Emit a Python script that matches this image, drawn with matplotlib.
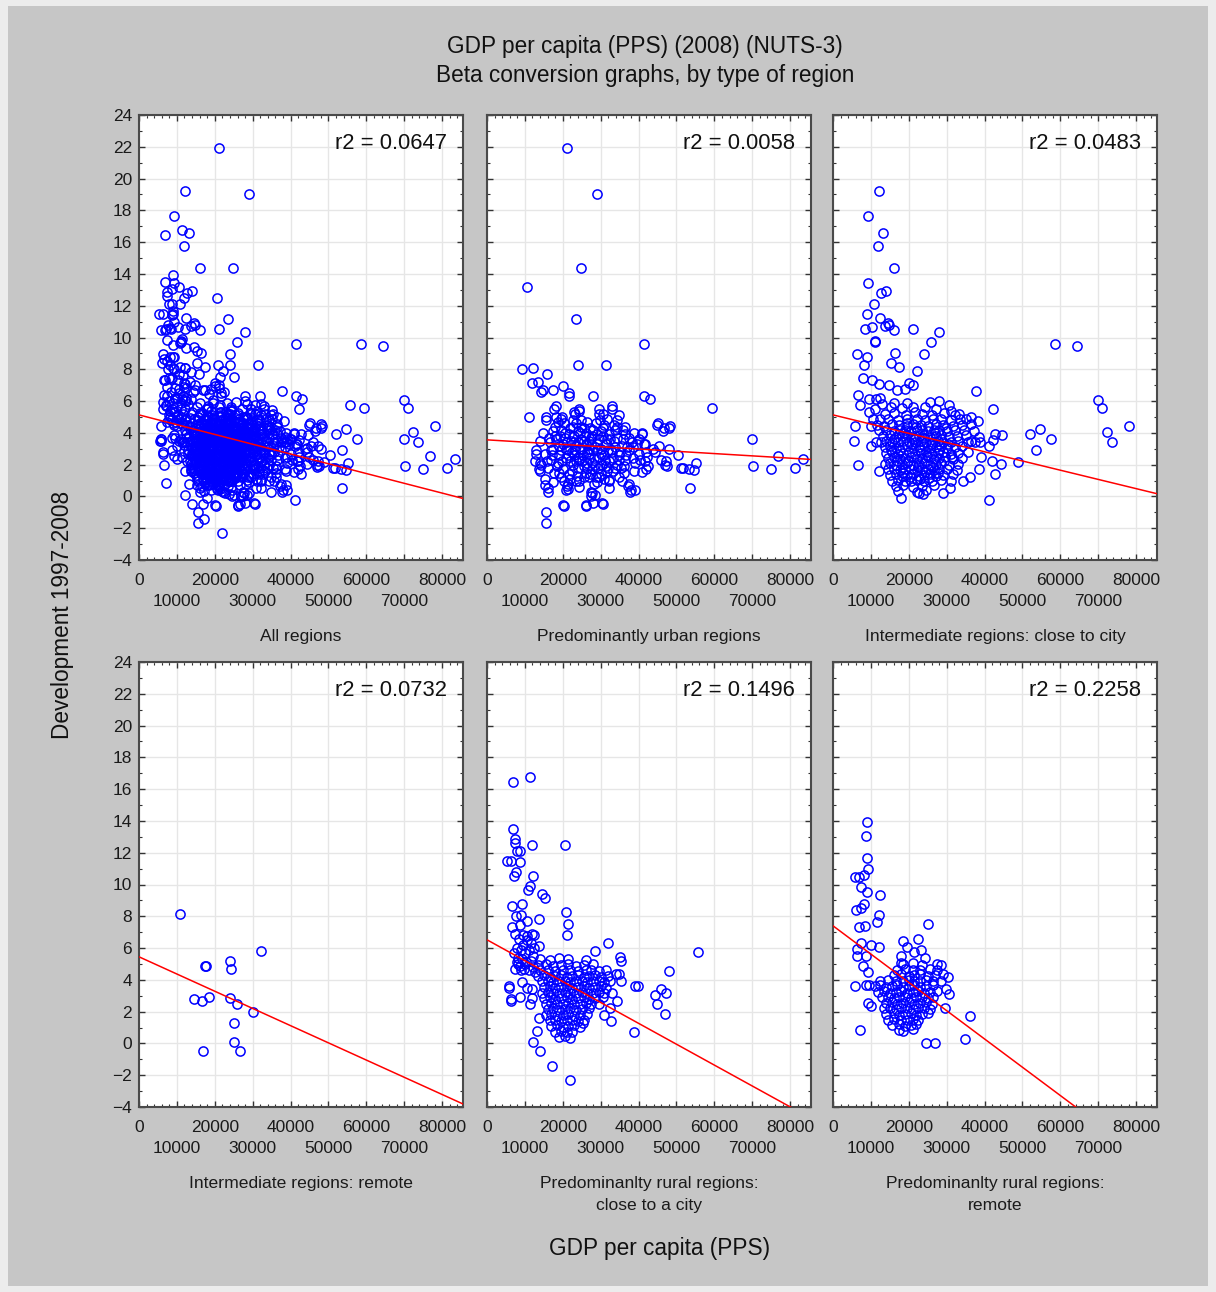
import matplotlib.pyplot as plt
import numpy as np
from matplotlib.patches import Rectangle
from matplotlib.ticker import MultipleLocator

# GDP per capita (thousand PPS, 2008) vs development 1997-2008, one list per region type
urban = [
    (21.1, 21.9), (29.0, 19.0), (24.9, 14.4), (10.5, 13.2), (23.6, 11.15), (41.5, 9.6), (24.0, 8.3),
    (31.3, 8.3), (9.3, 8.0), (12.1, 8.05), (15.9, 7.7), (12.0, 7.15), (13.5, 7.2), (14.2, 6.6),
    (14.8, 6.7), (17.3, 6.7), (20.1, 6.95), (21.7, 6.5), (21.7, 6.3), (28.1, 6.35), (41.3, 6.3),
    (43.1, 6.15), (59.4, 5.55), (11.1, 5.0), (15.7, 5.0), (18.2, 5.7), (33.0, 5.7), (29.5, 5.5),
    (24.3, 5.5), (23.1, 5.2), (30.7, 5.2), (18.3, 5.0), (19.6, 4.9), (45.2, 4.65), (48.2, 4.45),
    (46.7, 4.3), (41.0, 4.0), (69.9, 3.6), (76.9, 2.55), (83.4, 2.35), (70.3, 1.9), (74.9, 1.7),
    (81.2, 1.8), (53.7, 0.5), (50.5, 2.6), (55.2, 2.1), (51.7, 1.8), (53.3, 1.7), (54.6, 1.65),
    (48.0, 3.0), (45.4, 3.2), (45.9, 2.3), (47.2, 2.2), (47.6, 1.9), (42.6, 1.9), (41.9, 1.75),
    (40.9, 1.55), (39.5, 3.3), (41.8, 3.3), (38.6, 3.1), (12.9, 2.7), (14.0, 2.1), (13.8, 1.7),
    (15.3, 0.7), (16.2, 0.25), (15.5, -0.95), (15.5, -1.65), (20.3, -0.6), (26.2, -0.6), (27.9, -0.4),
    (28.4, 0.1), (27.5, 0.0), (30.6, -0.5), (37.1, 0.65), (38.0, 0.4), (21.4, 0.45), (21.2, 0.65),
    (32.2, 1.05),
    (17.8, 5.5), (19.8, 5.0), (23.0, 5.3), (24.3, 5.4), (29.6, 5.2), (31.7, 4.9), (32.9, 5.5),
    (34.8, 5.1), (15.7, 4.8), (18.7, 4.7), (20.4, 4.6), (22.6, 4.8), (24.8, 4.4), (26.5, 4.7),
    (28.7, 4.6), (30.9, 4.5), (34.3, 4.8), (36.5, 4.4), (44.8, 4.5), (14.8, 4.0), (17.4, 4.1),
    (19.6, 4.2), (21.7, 3.9), (23.9, 4.1), (26.1, 4.0), (27.8, 3.8), (30.0, 4.1), (32.2, 3.9),
    (33.9, 4.2), (36.3, 3.9), (38.7, 4.0), (40.9, 3.9), (46.5, 4.1), (48.0, 4.3), (13.9, 3.5),
    (16.5, 3.4), (18.3, 3.6), (20.0, 3.3), (22.2, 3.5), (23.5, 3.2), (25.7, 3.5), (27.4, 3.3),
    (29.6, 3.6), (31.3, 3.3), (33.5, 3.5), (35.7, 3.2), (38.3, 3.4), (41.3, 3.3), (43.9, 3.0),
    (13.0, 2.9), (15.2, 2.7), (17.4, 3.0), (19.1, 2.6), (21.3, 2.9), (23.0, 2.6), (25.2, 3.0),
    (27.0, 2.7), (29.1, 2.9), (30.9, 2.6), (33.0, 2.8), (34.8, 2.6), (37.4, 2.9), (40.0, 2.7),
    (42.2, 2.5), (44.3, 2.8), (12.6, 2.2), (14.3, 2.0), (17.0, 2.3), (18.7, 2.1), (20.9, 2.4),
    (22.6, 2.0), (24.3, 2.3), (26.5, 2.1), (28.3, 2.4), (30.4, 2.0), (32.2, 2.2), (34.3, 2.0),
    (36.5, 2.3), (39.1, 2.1), (41.7, 2.2), (47.0, 2.0), (51.3, 1.8), (13.9, 1.6), (16.1, 1.8),
    (17.8, 1.5), (20.0, 1.7), (21.7, 1.4), (23.9, 1.8), (26.1, 1.5), (27.8, 1.7), (30.0, 1.4),
    (31.7, 1.6), (33.9, 1.8), (36.1, 1.5), (38.7, 1.6), (15.2, 1.1), (17.4, 0.9), (19.6, 1.2),
    (21.3, 0.8), (23.5, 1.0), (25.7, 1.2), (29.1, 0.9), (32.2, 1.0), (34.8, 1.2), (37.4, 0.8),
    (16.1, 0.5), (20.9, 0.4), (24.3, 0.6), (27.4, 0.3), (32.2, 0.5), (37.8, 0.3), (39.1, 0.4),
    (20.0, -0.56), (26.1, -0.56), (30.4, -0.4), (27.8, 0.24), (24.5, 3.0), (26.8, 2.4), (28.5, 3.1),
    (22.5, 2.8), (25.0, 2.2), (27.5, 3.7), (23.0, 3.8), (29.5, 2.5), (31.8, 2.9), (20.8, 3.0),
    (26.0, 3.3), (24.0, 2.5),
    (18.0, 4.4), (19.2, 3.8), (20.6, 4.0), (21.0, 3.4), (22.0, 2.2), (22.8, 4.4), (23.3, 2.9),
    (24.0, 3.4), (24.6, 4.0), (25.3, 2.6), (25.9, 3.8), (26.4, 1.8), (27.0, 3.0), (27.6, 2.1),
    (28.1, 4.2), (28.9, 3.3), (29.3, 1.8), (30.2, 3.0), (30.6, 3.8), (31.1, 2.3), (31.9, 1.8),
    (32.5, 3.6), (33.2, 2.4), (33.8, 3.1), (34.4, 4.4), (35.1, 2.8), (35.9, 3.6), (36.8, 2.6),
    (37.6, 3.7), (19.5, 2.9), (18.5, 1.9), (20.4, 1.0), (22.3, 1.6), (23.8, 1.3), (26.8, 1.2),
    (28.8, 1.2), (17.2, 2.6), (16.3, 3.7), (15.8, 2.2), (24.8, 4.8), (27.3, 4.3), (29.8, 4.8),
    (38.5, 2.4), (36.2, 1.9), (40.3, 2.3),
    (18.9, 3.2), (19.9, 2.2), (20.5, 3.7), (21.5, 2.6), (21.9, 4.3), (22.9, 3.4), (23.4, 2.2),
    (23.6, 4.6), (24.9, 3.6), (25.5, 1.9), (25.6, 4.3), (26.3, 2.8), (26.9, 3.5), (27.3, 1.4),
    (27.9, 2.9), (28.6, 2.0), (29.0, 3.9), (29.5, 1.2), (30.1, 2.7), (30.7, 4.3), (31.3, 1.9),
    (31.6, 3.6), (32.7, 2.9), (33.2, 1.6), (33.6, 4.5), (34.3, 3.7), (34.9, 2.3), (35.4, 1.8),
    (36.0, 4.2), (37.0, 3.1), (19.0, 1.5), (17.9, 3.8), (16.8, 2.9), (24.4, 1.0), (28.2, 0.8),
    (22.0, 1.1), (30.8, 1.1), (35.7, 1.0), (40.0, 3.6), (42.0, 2.8),
]

close_to_city = [
    (12.1, 19.2), (9.3, 17.65), (13.3, 16.55), (12.0, 15.75), (16.1, 14.4), (9.2, 13.4), (14.0, 12.95),
    (12.7, 12.8), (10.8, 12.1), (8.9, 11.45), (12.3, 11.2), (8.5, 10.55), (10.3, 10.65), (13.6, 10.7),
    (14.5, 10.9), (14.9, 10.8), (16.0, 10.5), (21.1, 10.55), (28.0, 10.35), (11.0, 9.8), (11.2, 9.7),
    (25.8, 9.7), (16.4, 9.05), (6.3, 8.95), (8.9, 8.8), (24.1, 8.95), (8.2, 8.25), (15.3, 8.4),
    (17.4, 8.15), (22.1, 7.9), (8.0, 7.45), (10.4, 7.35), (12.1, 7.05), (14.7, 7.0), (16.8, 6.7),
    (20.0, 7.15), (21.2, 7.0), (19.1, 6.75), (37.7, 6.65), (6.7, 6.4), (7.0, 5.75), (9.5, 6.15),
    (11.4, 6.15), (12.3, 6.2), (16.0, 5.9), (19.5, 5.9), (25.6, 5.95), (28.1, 6.0), (30.7, 5.75),
    (42.3, 5.5), (58.6, 9.6), (64.3, 9.45), (70.0, 6.05), (70.9, 5.55), (78.1, 4.45), (72.4, 4.05),
    (73.7, 3.4), (51.9, 3.95), (54.6, 4.25), (57.5, 3.6), (53.5, 2.9), (48.8, 2.15), (44.6, 3.85),
    (42.8, 3.9), (42.1, 3.55), (5.8, 4.45), (5.6, 3.5), (6.6, 2.0), (10.1, 4.45), (10.1, 3.2),
    (11.4, 3.45), (12.1, 1.6), (41.2, -0.2), (18.0, -0.1), (22.8, 0.2), (23.7, 0.15), (29.1, 0.2),
    (30.9, 0.5), (36.2, 1.2), (34.2, 1.0), (38.4, 1.7), (42.8, 1.4), (44.3, 2.05), (39.0, 2.45),
    (41.9, 2.2), (41.2, 3.15), (38.9, 3.4), (36.4, 3.5), (38.2, 4.75), (36.4, 5.0), (33.3, 5.2),
    (31.1, 5.35), (9.6, 5.3), (11.2, 5.5), (12.9, 5.8), (10.5, 4.9),
    (15.4, 5.6), (18.1, 5.55), (21.2, 5.65), (24.3, 5.6), (27.2, 5.5),
    (13.6, 5.2), (16.1, 5.25), (19.2, 5.15), (21.6, 5.3), (23.4, 5.2), (26.1, 5.1), (29.2, 5.25),
    (32.1, 5.15), (12.4, 4.85), (14.6, 4.9), (17.1, 4.8), (19.4, 4.85), (22.1, 4.9), (24.2, 4.8),
    (26.4, 4.85), (28.6, 4.9), (31.1, 4.8), (33.4, 4.85), (35.2, 4.9), (11.6, 4.5), (13.4, 4.45),
    (15.6, 4.55), (17.4, 4.5), (19.6, 4.45), (21.1, 4.55), (23.1, 4.5), (25.1, 4.45), (27.1, 4.55),
    (29.1, 4.5), (31.6, 4.45), (34.1, 4.5), (36.4, 4.55), (12.1, 4.15), (14.1, 4.2), (16.1, 4.1),
    (17.6, 4.2), (19.1, 4.15), (20.6, 4.1), (22.1, 4.2), (23.6, 4.15), (25.1, 4.1), (26.6, 4.2),
    (28.1, 4.15), (30.1, 4.1), (32.1, 4.2), (34.6, 4.15), (37.1, 4.1), (13.1, 3.8), (15.1, 3.85),
    (16.6, 3.75), (18.1, 3.8), (19.6, 3.85), (21.1, 3.75), (22.6, 3.8), (24.1, 3.85), (25.6, 3.75),
    (27.1, 3.8), (28.6, 3.85), (30.6, 3.75), (32.6, 3.8), (35.1, 3.85), (38.6, 3.75), (12.6, 3.45),
    (14.1, 3.5), (15.6, 3.4), (17.1, 3.45), (18.6, 3.5), (20.1, 3.4), (21.6, 3.45), (23.1, 3.5),
    (24.6, 3.4), (26.1, 3.45), (27.6, 3.5), (29.1, 3.4), (31.1, 3.45), (33.1, 3.5), (35.6, 3.4),
    (37.6, 3.45), (13.6, 3.1), (15.1, 3.15), (16.6, 3.05), (18.1, 3.1), (19.6, 3.15), (21.1, 3.05),
    (22.6, 3.1), (24.1, 3.15), (25.6, 3.05), (27.1, 3.1), (28.6, 3.15), (30.1, 3.05), (32.1, 3.1),
    (34.1, 3.15), (14.1, 2.75), (15.6, 2.8), (17.1, 2.7), (18.6, 2.75), (20.1, 2.8), (21.6, 2.7),
    (23.1, 2.75), (24.6, 2.8), (26.1, 2.7), (27.6, 2.75), (29.1, 2.8), (31.1, 2.7), (33.1, 2.75),
    (35.6, 2.8), (14.6, 2.4), (16.1, 2.45), (17.6, 2.35), (19.1, 2.4), (20.6, 2.45), (22.1, 2.35),
    (23.6, 2.4), (25.1, 2.45), (26.6, 2.35), (28.1, 2.4), (29.6, 2.45), (31.6, 2.35), (34.1, 2.4),
    (13.6, 2.05), (15.1, 2.1), (16.6, 2.0), (18.1, 2.05), (19.6, 2.1), (21.1, 2.0), (22.6, 2.05),
    (24.1, 2.1), (25.6, 2.0), (27.1, 2.05), (28.6, 2.1), (30.6, 2.0), (33.1, 2.05), (14.6, 1.7),
    (16.1, 1.75), (17.6, 1.65), (19.1, 1.7), (20.6, 1.75), (22.1, 1.65), (23.6, 1.7), (25.1, 1.75),
    (26.6, 1.65), (28.1, 1.7), (30.1, 1.75), (32.6, 1.65), (15.1, 1.35), (16.6, 1.4), (18.1, 1.3),
    (19.6, 1.35), (21.1, 1.4), (22.6, 1.3), (24.1, 1.35), (25.6, 1.4), (27.1, 1.3), (29.1, 1.35),
    (31.6, 1.4), (15.6, 1.0), (17.1, 1.05), (19.1, 0.95), (20.6, 1.0), (22.1, 1.05), (24.1, 0.95),
    (26.1, 1.0), (28.6, 1.05), (31.1, 0.95), (16.6, 0.65), (18.6, 0.7), (21.1, 0.6), (23.6, 0.65),
    (26.6, 0.7), (17.1, 0.35), (22.1, 0.3), (24.6, 0.4),
    (16.0, 3.6), (17.8, 2.9), (18.8, 4.0), (19.9, 2.2), (20.9, 3.3), (21.8, 4.35), (22.4, 1.9),
    (22.9, 2.9), (23.9, 3.65), (24.4, 1.55), (24.9, 2.6), (25.9, 3.3), (26.4, 1.85), (26.9, 4.0),
    (27.9, 2.9), (28.4, 3.6), (29.4, 2.2), (29.9, 4.3), (30.4, 3.3), (31.4, 2.5), (16.9, 2.2),
    (18.4, 1.5), (20.4, 1.2), (23.0, 1.1), (25.4, 1.15), (27.6, 1.5), (19.4, 4.6), (21.4, 3.6),
    (15.4, 2.95), (17.4, 3.95),
]

intermediate_remote = [
    (10.9, 8.15), (32.2, 5.8), (24.0, 5.2), (24.3, 4.67), (17.3, 4.85), (17.7, 4.85), (14.5, 2.8),
    (16.6, 2.65), (18.6, 2.9), (24.0, 2.85), (25.8, 2.45), (30.0, 1.95), (25.0, 1.3), (25.2, 0.1),
    (26.7, -0.45), (17.0, -0.5),
]

rural_close = [
    (6.8, 16.45), (11.4, 16.75), (6.8, 13.5), (7.4, 12.85), (7.4, 12.6), (8.6, 12.1), (8.0, 12.1),
    (11.8, 12.5), (20.7, 12.5), (5.2, 11.45), (6.3, 11.45), (8.7, 11.4), (7.7, 10.8), (7.0, 10.55),
    (12.2, 10.55), (11.4, 9.9), (10.8, 9.65), (14.6, 9.4), (15.3, 9.15), (6.7, 8.65), (9.2, 8.8),
    (20.8, 8.25), (7.7, 8.0), (8.9, 8.1), (13.8, 7.8), (10.5, 7.7), (21.4, 7.5), (6.6, 7.35),
    (8.6, 7.45), (21.2, 6.85), (11.8, 6.9), (12.3, 6.85), (9.5, 6.8), (10.5, 6.75), (31.9, 6.35),
    (13.6, 6.15), (55.8, 5.75), (28.5, 5.8), (48.1, 4.55), (35.2, 5.45), (35.4, 5.2), (34.9, 4.4),
    (35.4, 3.9), (34.1, 4.4), (39.0, 3.6), (39.8, 3.6), (44.4, 3.05), (45.9, 3.4), (47.2, 3.15),
    (44.8, 2.5), (47.1, 1.85), (38.7, 0.7), (32.8, 1.4), (34.3, 2.65), (25.4, 1.3), (12.2, 0.1),
    (14.0, -0.5), (17.1, -1.45), (22.0, -2.3), (13.1, 0.8), (9.2, 3.85), (5.9, 3.6), (5.7, 3.5),
    (6.4, 2.8), (6.3, 2.65), (8.6, 2.9), (10.5, 3.5), (11.8, 3.4), (11.8, 2.85), (11.4, 2.45),
    (13.8, 1.6), (33.0, 3.2), (32.5, 2.2), (31.0, 1.8),
    (7.5, 6.9), (8.5, 6.6), (9.6, 6.2), (10.6, 6.5), (11.6, 6.3), (12.4, 6.0), (8.0, 6.0),
    (9.0, 5.9), (10.1, 5.7), (11.1, 5.9), (12.1, 5.5), (7.2, 5.7), (8.3, 5.4), (9.3, 5.3),
    (10.4, 5.1), (11.5, 5.2), (7.8, 5.1), (8.8, 4.9), (9.8, 4.7), (11.0, 4.6), (12.2, 4.8),
    (7.5, 4.7), (10.0, 5.0), (12.6, 4.5), (8.2, 5.0), (9.0, 4.6),
    (14.0, 5.3), (16.5, 5.25), (19.0, 5.35), (21.5, 5.3), (26.0, 5.25),
    (13.5, 4.95), (15.5, 5.0), (17.5, 4.9), (19.5, 4.95), (21.5, 5.0), (23.5, 4.9), (25.5, 4.95),
    (28.0, 5.0), (14.0, 4.6), (16.0, 4.65), (18.0, 4.55), (20.0, 4.6), (22.0, 4.65), (24.0, 4.55),
    (26.0, 4.6), (27.5, 4.65), (29.5, 4.55), (31.5, 4.6), (13.5, 4.25), (15.0, 4.3), (16.5, 4.2),
    (18.0, 4.25), (19.5, 4.3), (21.0, 4.2), (22.5, 4.25), (24.0, 4.3), (25.5, 4.2), (27.0, 4.25),
    (28.5, 4.3), (30.0, 4.2), (32.0, 4.25), (14.5, 3.9), (16.0, 3.95), (17.5, 3.85), (19.0, 3.9),
    (20.5, 3.95), (22.0, 3.85), (23.5, 3.9), (25.0, 3.95), (26.5, 3.85), (28.0, 3.9), (29.5, 3.95),
    (31.0, 3.85), (32.5, 3.9), (15.0, 3.55), (16.5, 3.6), (18.0, 3.5), (19.5, 3.55), (21.0, 3.6),
    (22.5, 3.5), (24.0, 3.55), (25.5, 3.6), (27.0, 3.5), (28.5, 3.55), (30.0, 3.6), (31.5, 3.5),
    (14.5, 3.2), (16.0, 3.25), (17.5, 3.15), (19.0, 3.2), (20.5, 3.25), (22.0, 3.15), (23.5, 3.2),
    (25.0, 3.25), (26.5, 3.15), (28.0, 3.2), (29.5, 3.25), (31.0, 3.15), (15.0, 2.85), (16.5, 2.9),
    (18.0, 2.8), (19.5, 2.85), (21.0, 2.9), (22.5, 2.8), (24.0, 2.85), (25.5, 2.9), (27.0, 2.8),
    (28.5, 2.85), (30.5, 2.9), (15.5, 2.5), (17.0, 2.55), (18.5, 2.45), (20.0, 2.5), (21.5, 2.55),
    (23.0, 2.45), (24.5, 2.5), (26.0, 2.55), (27.5, 2.45), (29.5, 2.5), (16.0, 2.15), (17.5, 2.2),
    (19.0, 2.1), (20.5, 2.15), (22.0, 2.2), (23.5, 2.1), (25.0, 2.15), (27.0, 2.2), (15.5, 1.8),
    (17.0, 1.85), (18.5, 1.75), (20.0, 1.8), (21.5, 1.85), (23.0, 1.75), (24.5, 1.8), (26.5, 1.85),
    (16.5, 1.45), (18.0, 1.5), (19.5, 1.4), (21.0, 1.45), (22.5, 1.5), (24.0, 1.4), (25.5, 1.45),
    (17.0, 1.1), (18.5, 1.15), (20.0, 1.05), (21.5, 1.1), (23.0, 1.15), (24.5, 1.05),
    (18.0, 0.75), (19.5, 0.8), (21.0, 0.7), (22.5, 0.75), (19.0, 0.4), (20.5, 0.45), (22.0, 0.35),
]

rural_remote = [
    (8.9, 13.95), (8.8, 13.05), (8.9, 11.65), (9.3, 11.0), (5.7, 10.5), (6.8, 10.45), (8.3, 10.6),
    (7.5, 9.85), (8.9, 9.5), (12.3, 9.35), (6.1, 8.4), (7.5, 8.5), (8.3, 8.8), (12.1, 8.05),
    (11.6, 7.65), (25.1, 7.5), (6.8, 7.3), (8.5, 7.4), (7.3, 6.3), (10.1, 6.2), (12.1, 6.05),
    (22.4, 6.55), (18.4, 6.45), (6.3, 5.95), (6.3, 5.5), (8.6, 5.5), (7.9, 4.9), (9.2, 4.5),
    (5.9, 3.6), (8.8, 3.7), (9.6, 3.65), (9.2, 2.55), (9.9, 2.35), (7.2, 0.85), (24.6, 0.05),
    (27.0, 0.05), (34.8, 0.25), (36.2, 1.7), (29.5, 2.2), (30.3, 4.15), (29.8, 3.4), (30.5, 3.1),
    (27.4, 5.0), (28.5, 4.95), (24.4, 5.35), (23.2, 5.9), (21.5, 5.75), (19.5, 6.05), (18.0, 5.5),
    (18.0, 5.05),
    (18.5, 5.0), (21.0, 5.05), (23.5, 4.95), (17.0, 4.65), (19.0, 4.7), (21.0, 4.6), (23.0, 4.65),
    (25.5, 4.7), (27.5, 4.6), (16.0, 4.3), (18.0, 4.35), (20.0, 4.25), (21.5, 4.3), (23.0, 4.35),
    (25.0, 4.25), (27.0, 4.3), (29.0, 4.35), (12.5, 3.95), (14.5, 4.0), (16.5, 3.9), (18.5, 3.95),
    (20.0, 4.0), (21.5, 3.9), (23.0, 3.95), (24.5, 4.0), (26.5, 3.9), (28.5, 3.95), (11.0, 3.6),
    (12.5, 3.65), (14.0, 3.55), (15.5, 3.6), (17.0, 3.65), (18.5, 3.55), (20.0, 3.6), (21.5, 3.65),
    (23.0, 3.55), (24.5, 3.6), (26.5, 3.65), (12.0, 3.25), (13.5, 3.3), (15.0, 3.2), (16.5, 3.25),
    (18.0, 3.3), (19.5, 3.2), (21.0, 3.25), (22.5, 3.3), (24.0, 3.2), (25.5, 3.25), (27.5, 3.3),
    (13.0, 2.9), (14.5, 2.95), (16.0, 2.85), (17.5, 2.9), (19.0, 2.95), (20.5, 2.85), (22.0, 2.9),
    (23.5, 2.95), (25.0, 2.85), (26.5, 2.9), (14.0, 2.55), (15.5, 2.6), (17.0, 2.5), (18.5, 2.55),
    (20.0, 2.6), (21.5, 2.5), (23.0, 2.55), (24.5, 2.6), (26.0, 2.5), (13.5, 2.2), (15.0, 2.25),
    (16.5, 2.15), (18.0, 2.2), (19.5, 2.25), (21.0, 2.15), (22.5, 2.2), (24.0, 2.25), (25.5, 2.15),
    (14.0, 1.85), (16.0, 1.9), (17.5, 1.8), (19.0, 1.85), (20.5, 1.9), (22.0, 1.8), (23.5, 1.85),
    (25.0, 1.9), (14.5, 1.5), (16.0, 1.55), (18.0, 1.45), (19.5, 1.5), (21.0, 1.55), (22.5, 1.45),
    (15.5, 1.15), (17.5, 1.2), (19.0, 1.1), (20.5, 1.15), (22.0, 1.2), (17.5, 0.85), (18.5, 0.8),
    (21.0, 0.9),
]

panel_titles = [
    'All regions',
    'Predominantly urban regions',
    'Intermediate regions: close to city',
    'Intermediate regions: remote',
    'Predominanlty rural regions:\nclose to a city',
    'Predominanlty rural regions:\nremote',
]
r2_labels = ['r2 = 0.0647', 'r2 = 0.0058', 'r2 = 0.0483', 'r2 = 0.0732', 'r2 = 0.1496', 'r2 = 0.2258']

# linear fit per panel: intercept (%) and slope (% per thousand PPS)
fit_intercepts = [5.13, 3.56, 5.13, 5.45, 6.52, 7.40]
fit_slopes = [-0.0615, -0.0144, -0.058, -0.1083, -0.1314, -0.178]

# x tick labels alternate between two rows
upper_ticks = [0, 20000, 40000, 60000, 80000]
lower_ticks = [10000, 30000, 50000, 70000]

FONT = ['Liberation Sans', 'DejaVu Sans']
W, H = 1216, 1292


def scatter_panel(ax, points, title, r2_label, intercept, slope, show_y_labels):
    pts = np.array(points)
    ax.plot(pts[:, 0] * 1000, pts[:, 1], linestyle='none', marker='o', markersize=6.6,
            markerfacecolor='none', markeredgecolor='#0000ff', markeredgewidth=1.1, zorder=3)

    line_x = np.array([0, 85500])
    ax.plot(line_x, intercept + slope * line_x / 1000, color='#ff0000', linewidth=1.1, zorder=4)

    ax.set_xlim(0, 85500)
    ax.set_ylim(-4, 24)
    ax.set_xticks(upper_ticks + lower_ticks)
    ax.set_xticklabels([str(t) for t in upper_ticks] + [''] * len(lower_ticks))
    for t in lower_ticks:
        ax.text(t, -0.094, str(t), transform=ax.get_xaxis_transform(), ha='center', va='center',
                fontsize=12.5, color='#1a1a1a')
    ax.xaxis.set_minor_locator(MultipleLocator(2000))
    ax.yaxis.set_major_locator(MultipleLocator(2))
    ax.yaxis.set_minor_locator(MultipleLocator(1))
    if not show_y_labels:
        ax.set_yticklabels([])

    ax.grid(which='major', color='#e6e6e6', linewidth=1.0, zorder=0)
    ax.set_axisbelow(True)
    ax.tick_params(which='both', direction='in', top=True, right=True, color='#333333',
                   labelsize=12.5, labelcolor='#1a1a1a')
    ax.tick_params(which='major', length=4, width=1.0)
    ax.tick_params(which='minor', length=2.5, width=0.8)
    ax.tick_params(axis='x', pad=9.5)
    ax.tick_params(axis='y', pad=5)
    for spine in ax.spines.values():
        spine.set_color('#4a4a4a')
        spine.set_linewidth(1.5)

    ax.text(0.95, 22.2, r2_label, transform=ax.get_yaxis_transform(), ha='right', va='center',
            fontsize=15.8, color='#111111', zorder=5)
    ax.text(0.5, -0.154, title, transform=ax.transAxes, ha='center', va='top',
            fontsize=12.6, color='#1a1a1a', linespacing=1.6)


def main():
    plt.rcParams['font.family'] = FONT

    fig = plt.figure(figsize=(W / 100, H / 100), dpi=100, facecolor='#ececec')
    fig.patches.append(Rectangle((8 / W, 1 - 1286 / H), 1200 / W, 1280 / H,
                                 transform=fig.transFigure, facecolor='#c6c6c6',
                                 edgecolor='none', zorder=-10))

    all_regions = urban + close_to_city + intermediate_remote + rural_close + rural_remote
    panels = [all_regions, urban, close_to_city, intermediate_remote, rural_close, rural_remote]

    lefts = [139, 487, 833]
    tops = [115, 662]
    for i, points in enumerate(panels):
        row, col = divmod(i, 3)
        left = lefts[col] / W
        bottom = 1 - (tops[row] + 445) / H
        ax = fig.add_axes([left, bottom, 324 / W, 445 / H])
        scatter_panel(ax, points, panel_titles[i], r2_labels[i], fit_intercepts[i], fit_slopes[i],
                      show_y_labels=(col == 0))

    fig.text(645 / W, 1 - 61 / H, 'GDP per capita (PPS) (2008) (NUTS-3)\nBeta conversion graphs, by type of region',
             ha='center', va='center', fontsize=16.3, color='#111111', linespacing=1.3)
    fig.text(63 / W, 1 - 615 / H, 'Development 1997-2008', rotation=90, ha='center', va='center',
             fontsize=16.3, color='#111111')
    fig.text(660 / W, 1 - 1248 / H, 'GDP per capita (PPS)', ha='center', va='center',
             fontsize=16.3, color='#111111')

    fig.savefig('out.png', dpi=100, facecolor=fig.get_facecolor())
    plt.close(fig)


if __name__ == '__main__':
    main()
